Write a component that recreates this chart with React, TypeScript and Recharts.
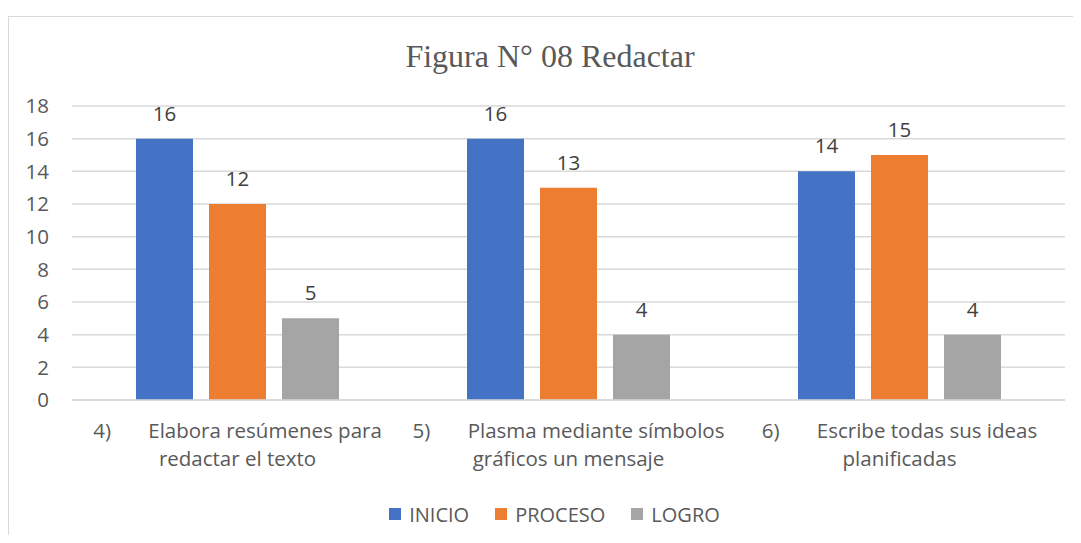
import React from "react";
import { BarChart, Bar, XAxis, YAxis, CartesianGrid, Legend, LabelList } from "recharts";

const categoryNumbers = ["4)", "5)", "6)"];
const categoryLine1 = ["Elabora resúmenes para", "Plasma mediante símbolos", "Escribe todas sus ideas"];
const categoryLine2 = ["redactar el texto", "gráficos un mensaje", "planificadas"];
const inicioValues = [16, 16, 14];
const procesoValues = [12, 13, 15];
const logroValues = [5, 4, 4];
const yTicks = [0, 2, 4, 6, 8, 10, 12, 14, 16, 18];

const seriesNames = ["INICIO", "PROCESO", "LOGRO"];
const seriesColors = ["#4472C4", "#ED7D31", "#A5A5A5"];

const data = categoryNumbers.map((n, i) => ({
  name: `${n} ${categoryLine1[i]} ${categoryLine2[i]}`,
  INICIO: inicioValues[i],
  PROCESO: procesoValues[i],
  LOGRO: logroValues[i],
}));

const FONT = "'Open Sans', 'Noto Sans', sans-serif";
const TEXT = "#595959";

const CategoryTick = (props: any) => {
  const { x, y, payload } = props;
  const i = payload.index;
  return (
    <g transform={`translate(${x},${y})`}>
      <text
        x={0}
        y={0}
        textAnchor="middle"
        fill={TEXT}
        fontFamily={FONT}
        fontSize={20.5}
        style={{ whiteSpace: "pre" }}
      >
        <tspan x={0} dy={30}>
          {categoryNumbers[i] + "\u00a0\u00a0\u00a0\u00a0\u00a0\u00a0\u00a0" + categoryLine1[i]}
        </tspan>
        <tspan x={0} dy={28}>{categoryLine2[i]}</tspan>
      </text>
    </g>
  );
};

const LegendContent = () => (
  <div
    style={{
      display: "flex",
      justifyContent: "center",
      alignItems: "center",
      height: 24,
      paddingLeft: 44,
      fontFamily: FONT,
      fontSize: 20,
      color: TEXT,
    }}
  >
    {seriesNames.map((s, i) => (
      <div key={s} style={{ display: "flex", alignItems: "center", marginRight: i < 2 ? 26 : 0 }}>
        <div style={{ width: 12, height: 12, background: seriesColors[i], marginRight: 8 }} />
        <span>{s}</span>
      </div>
    ))}
  </div>
);

export default function App() {
  return (
    <div style={{ position: "relative", width: 1081, height: 543, overflow: "hidden", margin: "-8px", background: "#fff" }}>
      <div
        style={{
          position: "absolute",
          left: 8,
          top: 16,
          width: 1200,
          height: 700,
          borderTop: "1.5px solid #d9d9d9",
          borderLeft: "1.5px solid #d9d9d9",
        }}
      />
      <div
        style={{
          position: "absolute",
          left: 0,
          top: 38,
          width: 1100,
          textAlign: "center",
          fontFamily: "'Liberation Serif', 'Times New Roman', serif",
          fontSize: 32,
          lineHeight: "36px",
          color: TEXT,
        }}
      >
        Figura N° 08 Redactar
      </div>
      <div style={{ position: "absolute", left: 0, top: 0 }}>
        <BarChart
          width={1081}
          height={543}
          data={data}
          margin={{ top: 106, right: 16, left: 0, bottom: 29 }}
          barCategoryGap={64}
          barGap={16}
        >
          <CartesianGrid vertical={false} stroke="#d9d9d9" strokeWidth={1.5} />
          <XAxis
            dataKey="name"
            height={90}
            tick={<CategoryTick />}
            tickLine={false}
            axisLine={{ stroke: "#d9d9d9", strokeWidth: 1.5 }}
            interval={0}
          />
          <YAxis
            width={72}
            domain={[0, 18]}
            ticks={yTicks}
            axisLine={false}
            tickLine={false}
            tickSize={0}
            tickMargin={23}
            tick={{ fill: TEXT, fontFamily: FONT, fontSize: 20.5 }}
          />
          <Legend
            verticalAlign="bottom"
            height={24}
            content={<LegendContent />}
            wrapperStyle={{ bottom: 17 }}
          />
          {seriesNames.map((s, i) => (
            <Bar key={s} dataKey={s} fill={seriesColors[i]} isAnimationActive={false}>
              <LabelList
                dataKey={s}
                position="top"
                offset={18}
                fill="#404040"
                fontFamily={FONT}
                fontSize={20.5}
              />
            </Bar>
          ))}
        </BarChart>
      </div>
    </div>
  );
}
